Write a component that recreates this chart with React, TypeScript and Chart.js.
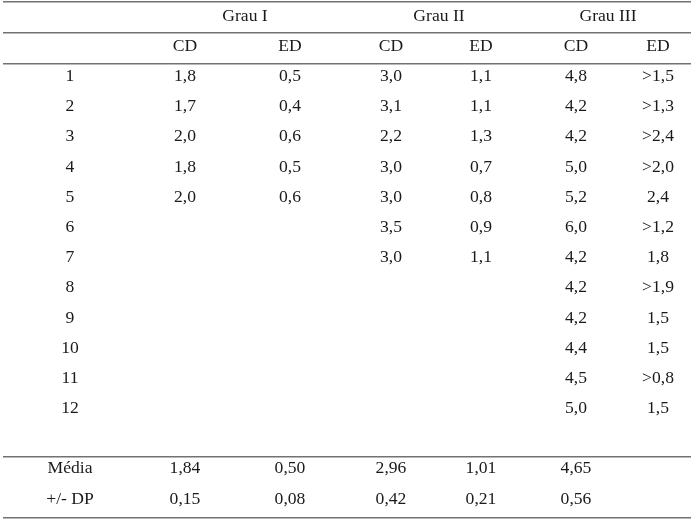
import { useEffect, useRef } from "react";
import { Chart, registerables } from "chart.js";

Chart.register(...registerables);

// ---- data ----
const groupHeaders = ["Grau I", "Grau II", "Grau III"];
const subHeaders = ["CD", "ED", "CD", "ED", "CD", "ED"];
const rowLabels = ["1", "2", "3", "4", "5", "6", "7", "8", "9", "10", "11", "12"];
const grau1CD = ["1,8", "1,7", "2,0", "1,8", "2,0"];
const grau1ED = ["0,5", "0,4", "0,6", "0,5", "0,6"];
const grau2CD = ["3,0", "3,1", "2,2", "3,0", "3,0", "3,5", "3,0"];
const grau2ED = ["1,1", "1,1", "1,3", "0,7", "0,8", "0,9", "1,1"];
const grau3CD = ["4,8", "4,2", "4,2", "5,0", "5,2", "6,0", "4,2", "4,2", "4,2", "4,4", "4,5", "5,0"];
const grau3ED = [">1,5", ">1,3", ">2,4", ">2,0", "2,4", ">1,2", "1,8", ">1,9", "1,5", "1,5", ">0,8", "1,5"];
const summaryLabels = ["Média", "+/- DP"];
const mediaValues = ["1,84", "0,50", "2,96", "1,01", "4,65", ""];
const dpValues = ["0,15", "0,08", "0,42", "0,21", "0,56", ""];

// ---- layout (table units) ----
const colCenters = [70, 185, 290, 391, 481, 576, 658];
const groupCenters = [245, 439, 608];
const separators = [-0.46, 0.56, 1.59, 14.61, 16.63];
const ROW_GROUP = 0;
const ROW_SUB = 1;
const ROW_DATA0 = 2;
const ROW_MEDIA = 15;
const ROW_DP = 16;

type Cell = { x: number; y: number; label: string };

function buildCells(): Cell[] {
  const cells: Cell[] = [];
  groupHeaders.forEach((g, i) => cells.push({ x: groupCenters[i], y: ROW_GROUP, label: g }));
  subHeaders.forEach((s, i) => cells.push({ x: colCenters[i + 1], y: ROW_SUB, label: s }));
  rowLabels.forEach((r, i) => cells.push({ x: colCenters[0], y: ROW_DATA0 + i, label: r }));
  const cols = [grau1CD, grau1ED, grau2CD, grau2ED, grau3CD, grau3ED];
  cols.forEach((col, c) =>
    col.forEach((v, i) => cells.push({ x: colCenters[c + 1], y: ROW_DATA0 + i, label: v }))
  );
  cells.push({ x: colCenters[0], y: ROW_MEDIA, label: summaryLabels[0] });
  cells.push({ x: colCenters[0], y: ROW_DP, label: summaryLabels[1] });
  mediaValues.forEach((v, c) => v && cells.push({ x: colCenters[c + 1], y: ROW_MEDIA, label: v }));
  dpValues.forEach((v, c) => v && cells.push({ x: colCenters[c + 1], y: ROW_DP, label: v }));
  return cells;
}

const textPlugin = {
  id: "cellText",
  afterDatasetsDraw(chart: any) {
    const ctx = chart.ctx;
    ctx.save();
    ctx.font = '17.6px "Liberation Serif", "Times New Roman", serif';
    ctx.fillStyle = "#1a1a1a";
    ctx.textAlign = "center";
    ctx.textBaseline = "middle";
    chart.data.datasets.forEach((ds: any, di: number) => {
      const meta = chart.getDatasetMeta(di);
      meta.data.forEach((el: any, i: number) => {
        const d = ds.data[i] as Cell;
        ctx.fillText(d.label, el.x, el.y);
      });
    });
    ctx.restore();
  },
};

export default function App() {
  const ref = useRef<HTMLCanvasElement>(null);
  useEffect(() => {
    document.body.style.margin = "0";
    const cells = buildCells();
    const chart = new Chart(ref.current!, {
      type: "scatter",
      data: {
        datasets: [
          {
            data: cells as any,
            pointRadius: 0,
            pointHoverRadius: 0,
          },
        ],
      },
      options: {
        responsive: false,
        animation: false,
        events: [],
        layout: { padding: { left: 3, right: 5, top: 0, bottom: 0 } },
        plugins: { legend: { display: false }, tooltip: { enabled: false } },
        scales: {
          x: { type: "linear", display: false, min: 3, max: 691 },
          y: {
            type: "linear",
            reverse: true,
            min: -0.53,
            max: 16.694,
            border: { display: false },
            ticks: { display: false },
            grid: { color: "#727272", lineWidth: 1.6, drawTicks: false },
            afterBuildTicks: (axis: any) => {
              axis.ticks = separators.map((v) => ({ value: v }));
            },
          },
        },
      },
      plugins: [textPlugin],
    });
    return () => chart.destroy();
  }, []);
  return <canvas ref={ref} width={696} height={520} style={{ display: "block" }} />;
}
